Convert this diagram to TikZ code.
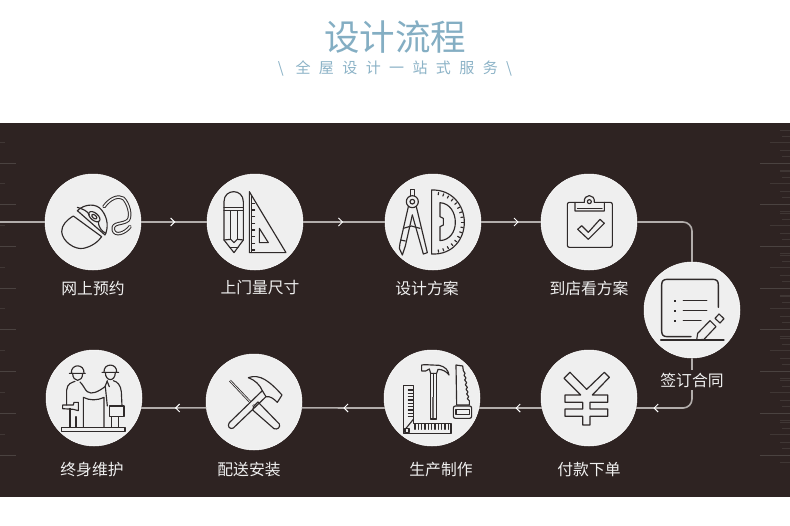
\documentclass[tikz,border=0pt]{standalone}
\usepackage{fontspec}
\setmainfont{Noto Sans CJK SC}
\newfontfamily\cjkspaced[LetterSpace=56]{Noto Sans CJK SC}
\usetikzlibrary{decorations.markings,arrows.meta,calc}
\definecolor{bandc}{HTML}{2E2322}
\definecolor{discc}{HTML}{EFEFEF}
\definecolor{linec}{HTML}{B2ADAB}
\definecolor{tickc}{HTML}{4A4240}
\definecolor{iconc}{HTML}{2F2A2A}
\definecolor{titlec}{HTML}{84AEC3}
\definecolor{subc}{HTML}{8CB3C7}
\tikzset{
 disc/.style={circle,fill=discc,draw=white,line width=.5pt,minimum size=96pt,inner sep=0pt},
 lab/.style={text=white!94!black,font=\fontsize{15.8}{18}\selectfont,inner sep=0pt},
 conn/.style={draw=linec,line width=1.6pt},
 chev/.style={postaction={decorate,decoration={markings,mark=at position #1 with {\arrow[white,line width=1pt]{Straight Barb[length=4pt,width=8pt]}}}}},
 icon/.style={draw=iconc,line width=1.15pt,line join=round,line cap=round},
 zoomed/.style={x=.33333pt,y=-.33333pt},
 ticklong/.style={draw=tickc,line width=.8pt},
 tickshort/.style={draw=tickc!65!bandc,line width=.7pt}
}
\begin{document}
\begin{tikzpicture}[x=1pt,y=-1pt]
\useasboundingbox (0,0) rectangle (790,525);
\fill[white] (0,0) rectangle (790,525);
\fill[bandc] (0,123) rectangle (790,497);
% edge ticks
\foreach \k in {0,...,7}{
 \draw[ticklong] (0,163+41.7*\k) -- ++(16,0);
 \draw[tickshort] (0,142+41.7*\k) -- ++(5,0);
 \draw[ticklong] (760,163+41.7*\k) -- ++(30,0);
 \draw[tickshort] (770,142+41.7*\k) -- ++(20,0);
 \draw[tickshort] (780,130+41.7*\k) -- ++(10,0);
 \draw[tickshort] (782,136+41.7*\k) -- ++(8,0);
 \draw[tickshort] (780,150+41.7*\k) -- ++(10,0);
 \draw[tickshort] (782,156+41.7*\k) -- ++(8,0);
 \draw[tickshort] (780,170+41.7*\k) -- ++(10,0);
}
% title
\node[text=titlec,font=\fontsize{35.5}{40}\selectfont,inner sep=0pt] (title) at (395,37) {设计流程};
\node[text=subc,font=\fontsize{15}{18}\selectfont\cjkspaced,inner sep=0pt] (sub) at (395,68) {\textbackslash\ 全屋设计一站式服务\textbackslash};
% discs
\node[disc] (c1) at (93,222) {};
\node[disc] (c2) at (255,222) {};
\node[disc] (c3) at (433,222) {};
\node[disc] (c4) at (589,222) {};
\node[disc] (c5) at (692,310) {};
\node[disc] (c6) at (589,398) {};
\node[disc] (c7) at (432,398) {};
\node[disc] (c8) at (254,402) {};
\node[disc] (c9) at (94,398) {};
\coordinate (start) at (0,222);
% connectors
\draw[conn] (start) -- (c1);
\draw[conn,chev=.52] (c1) -- (c2);
\draw[conn,chev=.49] (c2) -- (c3);
\draw[conn,chev=.63] (c3) -- (c4);
\draw[conn,rounded corners=9pt] (c4) -| (c5);
\draw[conn,rounded corners=9pt,chev=.83] (c5.south) |- (c6.-12);
\draw[conn,chev=.42] (c6.192) -- (c7.-12);
\draw[conn,chev=.5] (c7.192) -- (c8.-7);
\draw[conn,chev=.48] (c8.187) -- (c9.-12);
% labels
\node[lab] (l1) at (93,288) {网上预约};
\node[lab] (l2) at (260,288) {上门量尺寸};
\node[lab] (l3) at (427,288) {设计方案};
\node[lab] (l4) at (589,288) {到店看方案};
\node[lab,fill=bandc,inner ysep=3pt,inner xsep=1pt] (l5) at (692,380) {签订合同};
\node[lab] (l6) at (589,470) {付款下单};
\node[lab] (l7) at (441,470) {生产制作};
\node[lab] (l8) at (249,470) {配送安装};
\node[lab] (l9) at (92,470) {终身维护};
% icon 1, 2
\begin{scope}[zoomed,shift={(0pt,-120pt)}]
 % mouse
 \draw[icon] (220,288) .. controls (200,300) and (185,315) .. (185,335) .. controls (187,365) and (225,390) .. (250,385) .. controls (275,380) and (295,365) .. (305,350) -- cycle;
 \draw[icon] (232,272) .. controls (255,250) and (290,250) .. (305,270) .. controls (325,295) and (325,325) .. (315,345) -- cycle;
 \draw[icon,rotate around={-40:(283,290)}] (283,290) ellipse (20 and 11);
 \draw[icon,rotate around={-40:(283,290)}] (283,290) ellipse (9 and 5);
 \draw[icon] (232,262) .. controls (250,268) and (262,272) .. (268,285);
 \draw[icon] (295,305) .. controls (295,320) and (305,335) .. (318,340);
 \draw[draw=iconc,line width=1pt,double=discc,double distance=1.5pt,line cap=round] (312,260) .. controls (330,235) and (355,225) .. (370,235) .. controls (385,250) and (395,285) .. (385,300) .. controls (370,315) and (335,305) .. (340,330) .. controls (345,350) and (375,340) .. (390,320);
 % pencil
 \draw[icon] (672,360) -- (672,245) .. controls (672,205) and (730,205) .. (730,245) -- (730,360) -- (702,398) -- cycle;
 \draw[icon] (672,262) -- (730,262) (672,272) -- (730,272);
 \draw[icon] (692,272) -- (692,358) (712,272) -- (712,358);
 \draw[icon] (672,360) -- (692,358) -- (702,368) -- (712,358) -- (730,360);
 \draw[icon] (690,382) -- (714,382);
 % set square
 \draw[icon] (748,215) -- (858,398) -- (748,398) -- cycle;
 \draw[icon] (755,226) -- (755,398);
 \draw[icon] (778,325) -- (805,368) -- (778,368) -- cycle;
 \foreach \y in {250,270,...,390}{\draw[icon] (755,\y) -- (764,\y);}
\end{scope}
% icon 3, 4
\begin{scope}[zoomed,shift={(370pt,-160pt)}]
 % compass
 \draw[icon] (122,108) -- (122,88) -- (133,88) -- (133,108);
 \draw[icon] (127,125) circle (18);
 \draw[icon] (127,125) circle (7);
 \draw[icon] (115,140) -- (90,250) -- (88,265) -- (97,285) -- (106,258) -- (127,165);
 \draw[icon] (139,140) -- (172,278) -- (160,282) -- (127,165);
 \draw[icon] (100,205) -- (124,198) -- (150,205);
 \draw[icon] (92,240) -- (106,243);
 % protractor
 \draw[icon] (185,90) -- (185,282) .. controls (250,285) and (283,235) .. (283,187) .. controls (283,135) and (245,88) .. (185,90) -- cycle;
 \draw[icon] (210,128) -- (210,170) -- (220,175) -- (220,195) -- (210,200) -- (210,242) .. controls (240,240) and (256,215) .. (256,187) .. controls (256,158) and (240,130) .. (210,128) -- cycle;
 \foreach \a in {-80,-70,...,80}{\draw[icon] ($(190,187)+(\a:91)$) -- ($(190,187)+(\a:84)$);}
 % clipboard
 \draw[icon,rounded corners=2pt] (615,127) -- (592,127) -- (592,262) -- (727,262) -- (727,127) -- (703,127);
 \draw[icon] (615,127) -- (643,127) .. controls (640,100) and (676,100) .. (673,127) -- (703,127) -- (703,153) -- (615,153) -- cycle;
 \draw[icon] (622,146) -- (696,146);
 \draw[icon] (658,125) circle (6);
 \draw[icon] (623,208) -- (635,197) -- (655,217) -- (690,178) -- (703,190) -- (655,238) -- cycle;
\end{scope}
% icon 5
\begin{scope}[zoomed,shift={(630pt,-210pt)}]
 \draw[icon,line width=1.4pt] (183,380) -- (112,380) .. controls (100,380) and (95,375) .. (95,363) -- (95,225) .. controls (95,213) and (100,208) .. (112,208) -- (248,208) .. controls (260,208) and (265,213) .. (265,225) -- (265,292);
 \foreach \y in {272,302,332}{\fill[iconc] (132,\y-3) rectangle (139,\y+3);}
 \draw[icon,line width=1.4pt] (160,272) -- (230,272) (160,302) -- (230,302) (160,332) -- (213,332);
 \draw[icon] (92,390) -- (282,390);
 \draw[icon] (203,370) -- (240,332) -- (258,350) -- (222,388) -- (200,390) -- cycle;
 \draw[icon] (255,325) -- (267,312) -- (282,326) -- (270,339) -- cycle;
\end{scope}
% icon 6, 7
\begin{scope}[zoomed,shift={(370pt,-340pt)}]
 \draw[icon,line width=1.2pt] (582,115) -- (600,97) -- (650,148) -- (703,97) -- (718,112) -- (667,165) -- (713,165) -- (713,187) -- (660,187) -- (660,207) -- (713,207) -- (713,229) -- (660,229) -- (660,255) -- (638,255) -- (638,229) -- (585,229) -- (585,207) -- (638,207) -- (638,187) -- (585,187) -- (585,165) -- (632,165) -- cycle;
 % L square
 \draw[icon] (100,137) -- (130,137) -- (130,250) -- (243,250) -- (243,280) -- (100,280) -- cycle;
 \draw[icon] (130,238) -- (108,265);
 \foreach \y in {150,160,...,230}{\draw[icon] (130,\y) -- (115,\y);}
 \foreach \x in {135,145,...,235}{\draw[icon] (\x,252) -- (\x,268);}
 \draw[icon] (105,266) rectangle (117,277);
 % hammer
 \draw[icon] (155,75) -- (155,93) -- (167,93) -- (178,87) -- (182,100) -- (200,100) -- (204,88) .. controls (218,88) and (230,95) .. (237,105) .. controls (235,90) and (225,80) .. (208,76) -- (165,74) -- cycle;
 \draw[icon] (182,100) -- (182,237) -- (200,237) -- (200,100);
 \fill[iconc!70!discc] (186,170) rectangle (192,235);
 \draw[icon] (190,100) -- (190,170);
 % saw
 \draw[icon] (258,75) -- (260,195) -- (298,195) -- (298,182) -- (292,176) -- (296,170) -- (290,162) -- (294,156) -- (288,148) -- (292,142) -- (286,134) -- (290,128) -- (284,120) -- (288,114) -- (282,106) -- (285,100) -- (280,92) -- (278,78) -- cycle;
 \draw[icon,rounded corners=2pt] (250,198) rectangle (305,235);
 \draw[icon] (258,208) rectangle (298,224);
\end{scope}
% icon 8, 9
\begin{scope}[zoomed,shift={(30pt,-340pt)}]
 % screwdriver
 \draw[draw=iconc,line width=.8pt,double=discc,double distance=.7pt] (600,122) -- (672,198);
 \draw[icon] (672,198) -- (684,186) -- (748,252) .. controls (752,262) and (742,270) .. (732,266) -- (668,210) -- cycle;
 % hammer
 \draw[draw=discc,line width=4pt] (598,258) -- (690,165);
 \draw[icon] (697,152) -- (598,248) .. controls (590,258) and (600,270) .. (610,264) -- (708,170);
 \draw[icon] (655,113) .. controls (690,100) and (720,125) .. (756,165) -- (742,187) .. controls (730,175) and (720,168) .. (708,170) -- (697,152) .. controls (690,135) and (675,120) .. (655,113) -- cycle;
 % base
 \draw[icon] (95,262) rectangle (285,275);
 % left worker
 \draw[icon] (118,100) -- (166,100) (124,100) .. controls (122,70) and (164,70) .. (162,100);
 \draw[icon] (128,100) .. controls (128,128) and (158,128) .. (158,100);
 \draw[icon] (120,262) -- (120,205);
 \draw[icon] (110,195) -- (110,150) .. controls (112,130) and (125,128) .. (135,124);
 \draw[icon] (150,126) .. controls (160,135) and (165,150) .. (172,155) .. controls (185,165) and (205,155) .. (225,140);
 \draw[icon] (98,195) -- (130,195) -- (132,187) -- (145,187) -- (145,212) -- (130,208) -- (98,206) -- cycle;
 \draw[icon] (138,230) -- (138,262);
 % right worker
 \draw[icon] (216,97) -- (266,97) (222,97) .. controls (220,68) and (262,68) .. (260,97);
 \draw[icon] (226,97) .. controls (226,126) and (256,126) .. (256,97);
 \draw[icon] (232,122) -- (225,140) (250,122) .. controls (262,125) and (272,135) .. (274,155) -- (276,198);
 \draw[icon] (226,140) -- (232,198) (232,125) -- (238,140);
 \draw[icon] (238,198) rectangle (282,230);
 \draw[icon] (245,230) -- (245,262) (265,230) -- (265,262);
 % paper
 \draw[icon] (160,262) -- (160,172) .. controls (180,182) and (200,182) .. (222,172) -- (222,262);
\end{scope}
\end{tikzpicture}
\end{document}
